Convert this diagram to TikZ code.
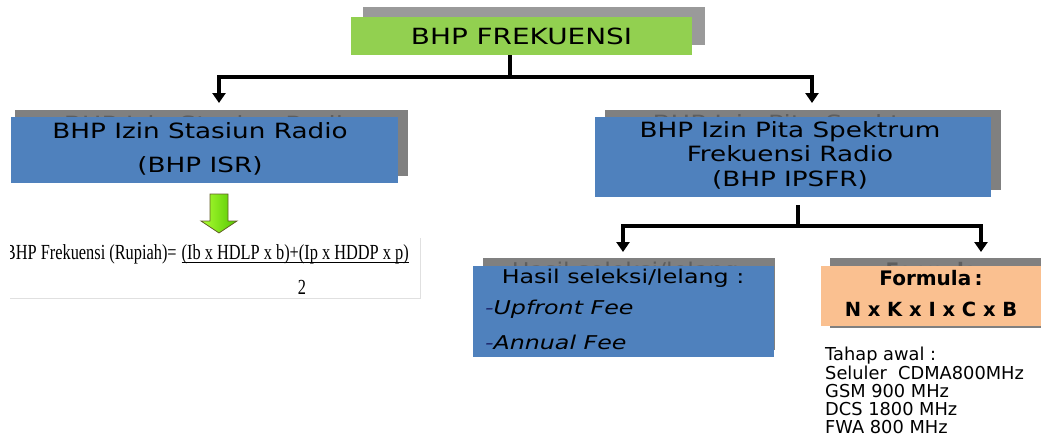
\documentclass[tikz,border=0pt]{standalone}
\usepackage{fontspec}
\setmainfont{DejaVu Sans}
\newfontfamily\boxfont{DejaVu Sans}[FakeStretch=1.25]
\newfontfamily\formfont{Liberation Serif}[FakeStretch=0.76]
\usetikzlibrary{arrows.meta}
\definecolor{titlegreen}{HTML}{92D050}
\definecolor{boxblue}{HTML}{4F81BD}
\definecolor{shgray}{HTML}{808080}
\definecolor{shlight}{HTML}{9A9A9A}
\definecolor{ghost}{HTML}{5E5E5E}
\definecolor{peach}{HTML}{FAC090}
\definecolor{navy}{HTML}{1F2A6E}
\tikzset{
  box/.style={inner sep=0pt, outer sep=0pt, draw=none},
  shadowbox/.style={box, fill=shgray},
  bluebox/.style={box, fill=boxblue},
  txt/.style={inner sep=0pt, outer sep=0pt, font=\boxfont\fontsize{21}{24}\selectfont},
  ghosttxt/.style={txt, text=ghost},
  formtxt/.style={inner sep=0pt, outer sep=0pt, font=\formfont\fontsize{21.5}{24}\selectfont},
  plain/.style={line width=3.5pt},
  conn/.style={line width=3.5pt, -{Triangle[width=13pt,length=10pt]}},
}
\begin{document}
\begin{tikzpicture}[x=1pt,y=-1pt]
\useasboundingbox (0,0) rectangle (1041,437);
\clip (0,0) rectangle (1041,437);
% title
\node[box, fill=shlight, minimum width=342pt, minimum height=38pt] (titlesh) at (534,26) {};
\node[box, fill=titlegreen, minimum width=341pt, minimum height=38pt, font=\boxfont\fontsize{22.3}{26}\selectfont] (title) at (521.5,36) {BHP FREKUENSI};
% left box
\node[shadowbox, minimum width=393pt, minimum height=66pt] (isrsh) at (211.5,143) {};
\node[ghosttxt] (isrgh) at (211.5,124) {BHP Izin Stasiun Radio};
\node[bluebox, minimum width=387pt, minimum height=66pt] (isr) at (204.5,150) {};
\node[txt] (isr1) at (200,131) {BHP Izin Stasiun Radio};
\node[txt] (isr2) at (200,166) {(BHP ISR)};
% right box
\node[shadowbox, minimum width=396pt, minimum height=80pt] (ipsh) at (803,150) {};
\node[ghosttxt] (ipgh) at (803,125) {BHP Izin Pita Spektrum};
\node[bluebox, minimum width=396pt, minimum height=80pt] (ip) at (793,157) {};
\node[txt] (ip1) at (790,132) {BHP Izin Pita Spektrum};
\node[txt] (ip2) at (790,154) {Frekuensi Radio};
\node[txt] (ip3) at (790,180) {(BHP IPSFR)};
% hasil box
\node[shadowbox, minimum width=292pt, minimum height=92pt] (hsh) at (629,304) {};
\node[ghosttxt, font=\boxfont\fontsize{19}{22}\selectfont] (hgh) at (633,271) {Hasil seleksi/lelang :};
\node[bluebox, minimum width=301pt, minimum height=91pt] (hasil) at (623.5,311.5) {};
\node[txt, font=\boxfont\fontsize{19}{22}\selectfont] (h1) at (623,278) {Hasil seleksi/lelang :};
\node[txt, anchor=west, font=\boxfont\fontsize{19}{22}\selectfont\itshape] (h2) at (485,309) {\textcolor{navy}{-}Upfront Fee};
\node[txt, anchor=west, font=\boxfont\fontsize{19}{22}\selectfont\itshape] (h3) at (485,342) {\textcolor{navy}{-}Annual Fee};
% formula box
\node[shadowbox, minimum width=230pt, minimum height=70pt] (fsh) at (945,293) {};
\node[ghosttxt, font=\bfseries\fontsize{20}{22}\selectfont] (fgh) at (939,270) {Formula :};
\node[box, fill=peach, minimum width=220pt, minimum height=60pt] (form) at (931,296) {};
\node[txt, font=\bfseries\fontsize{20}{22}\selectfont] (f1) at (931,278) {Formula\,:};
\node[txt, font=\bfseries\fontsize{19.5}{22}\selectfont] (f2) at (931,309) {N x K x I x C x B};
% tahap awal
\node[inner sep=0pt, anchor=north west, align=left, font=\fontsize{17.8}{18.3}\selectfont] (tahap) at (825,347)
  {Tahap awal :\\Seluler\ \ CDMA800MHz\\GSM 900 MHz\\DCS 1800 MHz\\FWA 800 MHz};
% BHP ISR formula
\draw[black!12, line width=0.8pt] (10,298) -- (420,298) -- (420,238);
\begin{scope}
\clip (10,230) rectangle (430,300);
\node[formtxt, anchor=base west] (eqL) at (5,259) {BHP Frekuensi (Rupiah)=};
\end{scope}
\node[formtxt, anchor=base west, xshift=5pt] (eqN) at (eqL.base east) {(Ib x HDLP x b)+(Ip x HDDP x p)};
\draw[line width=0.9pt] ([yshift=-3pt]eqN.base west) -- ([yshift=-3pt]eqN.base east);
\node[formtxt] (two) at (302,287) {2};
% green arrow
\draw[draw=olive!60!black, line width=0.8pt, left color=yellow!60!green!80!white, right color=green!50!olive!90!yellow]
  (210,194) -- (228,194) -- (228,221) -- (237,221) -- (219,233) -- (201,221) -- (210,221) -- cycle;
% connectors
\coordinate (j1) at (510,77);
\coordinate (a1) at (219,103);
\coordinate (a2) at (812,103);
\draw[plain] (title.south -| j1) -- (j1);
\draw[conn] (j1) -| (a1);
\draw[conn] (j1) -| (a2);
\coordinate (j2) at (798,226);
\coordinate (b0) at (798,205);
\coordinate (b1) at (623,252);
\coordinate (b2) at (981,252);
\draw[plain] (b0) -- (j2);
\draw[conn] (j2) -| (b1);
\draw[conn] (j2) -| (b2);
\end{tikzpicture}
\end{document}
